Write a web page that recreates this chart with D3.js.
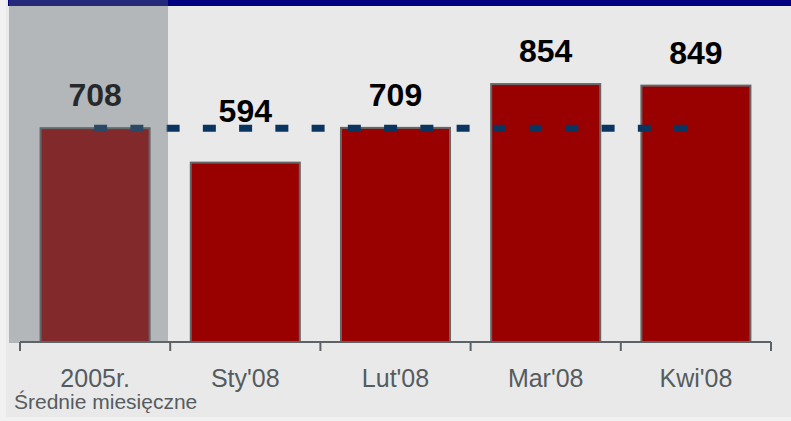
<!DOCTYPE html>
<html>
<head>
<meta charset="utf-8">
<title>Średnie miesięczne</title>
<script src="https://cdn.jsdelivr.net/npm/d3@7"></script>
<style>
  html, body { margin: 0; padding: 0; background: #f1f1f1; }
  svg { display: block; }
  text { font-family: "Liberation Sans", Arial, sans-serif; }
</style>
</head>
<body>
<div id="chart"></div>
<script>
// data
var categories = ["2005r.", "Sty'08", "Lut'08", "Mar'08", "Kwi'08"];
var values = [708, 594, 709, 854, 849];
var average = 708;          // 2005 monthly average, dashed line
var subLabel = "Średnie miesięczne";

var width = 791, height = 421;
var axisY = 342;

var svg = d3.select("#chart").append("svg")
    .attr("width", width)
    .attr("height", height);

// chart background
svg.append("rect")
    .attr("x", 6).attr("y", 0)
    .attr("width", width - 6).attr("height", 417)
    .attr("fill", "#e9e9e9");

// navy strip at top
svg.append("rect")
    .attr("x", 8).attr("y", 0)
    .attr("width", width - 8).attr("height", 6)
    .attr("fill", "#000080");

var x = d3.scaleBand()
    .domain(categories)
    .range([20, 771])
    .paddingInner(0.274)
    .paddingOuter(0.137);

var y = d3.scaleLinear()
    .domain([0, 1000])
    .range([axisY, 40]);

// bars
svg.selectAll("rect.bar")
  .data(values)
  .enter().append("rect")
    .attr("class", "bar")
    .attr("x", function(d, i) { return x(categories[i]); })
    .attr("y", function(d) { return y(d); })
    .attr("width", x.bandwidth())
    .attr("height", function(d) { return y(0) - y(d); })
    .attr("fill", "#990000")
    .attr("stroke", "#666666")
    .attr("stroke-width", 2);

// dashed average line, from first bar centre to last bar centre
var avgY = y(average);
svg.append("line")
    .attr("x1", x(categories[0]) + x.bandwidth() / 2 - 1)
    .attr("x2", x(categories[categories.length - 1]) + x.bandwidth() / 2 - 7)
    .attr("y1", avgY).attr("y2", avgY)
    .attr("stroke", "#0a3560")
    .attr("stroke-width", 7)
    .attr("stroke-dasharray", "13,23.25");

// value labels
svg.selectAll("text.val")
  .data(values)
  .enter().append("text")
    .attr("class", "val")
    .attr("x", function(d, i) { return x(categories[i]) + x.bandwidth() / 2; })
    .attr("y", function(d) { return Math.min(y(d) - 22, avgY - 6); })
    .attr("text-anchor", "middle")
    .attr("font-size", 32)
    .attr("font-weight", "bold")
    .attr("fill", "#000")
    .text(function(d) { return d; });

// axis line and ticks at band edges
var step = x.step();
var edges = categories.map(function(c) { return x(c) - step * x.paddingInner() / 2; });
edges.push(x.range()[1]);

svg.append("line")
    .attr("x1", x.range()[0]).attr("x2", x.range()[1])
    .attr("y1", axisY).attr("y2", axisY)
    .attr("stroke", "#5c6266")
    .attr("stroke-width", 2);

svg.selectAll("line.tick")
  .data(edges)
  .enter().append("line")
    .attr("class", "tick")
    .attr("x1", function(d) { return d; })
    .attr("x2", function(d) { return d; })
    .attr("y1", axisY).attr("y2", axisY + 9)
    .attr("stroke", "#5c6266")
    .attr("stroke-width", 2);

// category labels
svg.selectAll("text.cat")
  .data(categories)
  .enter().append("text")
    .attr("class", "cat")
    .attr("x", function(d) { return x(d) + x.bandwidth() / 2; })
    .attr("y", 387)
    .attr("text-anchor", "middle")
    .attr("font-size", 25)
    .attr("fill", "#555c60")
    .text(function(d) { return d; });

svg.append("text")
    .attr("x", 14)
    .attr("y", 409)
    .attr("font-size", 21)
    .attr("fill", "#555c60")
    .text(subLabel);

// grey translucent panel over the 2005 reference column
svg.append("rect")
    .attr("x", 9).attr("y", 0)
    .attr("width", 159).attr("height", 343)
    .attr("fill", "#606a70")
    .attr("fill-opacity", 0.39);
</script>
</body>
</html>
